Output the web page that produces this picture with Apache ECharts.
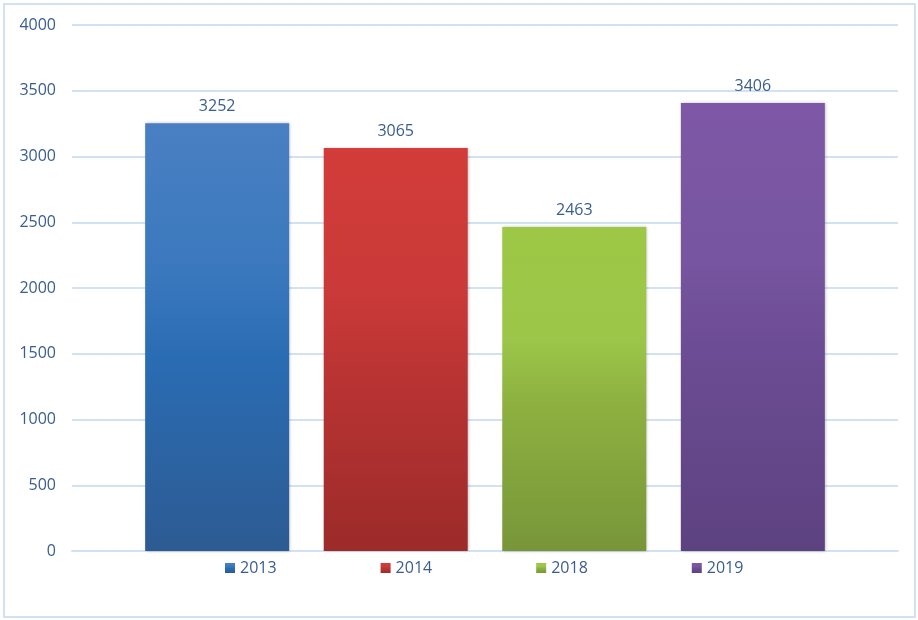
<!DOCTYPE html>
<html>
<head>
<meta charset="utf-8">
<style>
	html,body{margin:0;padding:0;background:#fff;}
	#chart{width:918px;height:620px;}
</style>
<script src="https://cdn.jsdelivr.net/npm/echarts@6/dist/echarts.min.js"></script>
</head>
<body>
<div id="chart"></div>
<script>
// data
var categories = [''];
var years = ['2013','2014','2018','2019'];
var values = [3252, 3065, 2463, 3406];
var yTicks = [0, 500, 1000, 1500, 2000, 2500, 3000, 3500, 4000];

// gradient stops per bar (top -> bottom)
var gradients = [
	['#4a80c3','#3a78bd','#2a6cb3','#2d5b93'],
	['#d23c39','#ca3a38','#bb3434','#9c2b29'],
	['#9dc845','#9bc649','#8db040','#789639'],
	['#7e58a6','#7755a0','#6c4c94','#5d4280']
];
var textColor = '#3a5d90';
var lineColor = '#d3e2f2';

function grad(c){
	return {
		type: 'linear', x: 0, y: 0, x2: 0, y2: 1,
		colorStops: [
			{offset: 0, color: c[0]},
			{offset: 0.35, color: c[1]},
			{offset: 0.55, color: c[2]},
			{offset: 1, color: c[3]}
		]
	};
}

var series = [];
for(var i=0;i<years.length;i++){
	series.push({
		name: years[i],
		type: 'bar',
		data: [values[i]],
		barWidth: 144,
		barGap: '24%',
		itemStyle: {
			color: grad(gradients[i]),
			shadowBlur: 3,
			shadowColor: 'rgba(0,0,0,0.25)',
			shadowOffsetX: 1
		},
		label: {
			show: true,
			position: 'top',
			distance: 9,
			color: textColor,
			fontSize: 16,
			fontFamily: 'Open Sans'
		}
	});
}

var myChart = echarts.init(document.getElementById('chart'));
var option = {
	animation: false,
	textStyle: {fontFamily: 'Open Sans'},
	graphic: [{
		type: 'rect',
		shape: {x: 4, y: 4, width: 911, height: 613},
		style: {fill: 'none', stroke: lineColor, lineWidth: 2},
		z: -1
	}],
	grid: {left: 72, right: 20, top: 25, bottom: 69},
	legend: {
		data: years,
		left: 220,
		top: 555,
		itemWidth: 10,
		itemHeight: 10,
		itemGap: 104,
		icon: 'rect',
		textStyle: {color: textColor, fontSize: 16, fontFamily: 'Open Sans'}
	},
	xAxis: {
		type: 'category',
		data: categories,
		axisLine: {lineStyle: {color: lineColor, width: 2}},
		axisTick: {show: false},
		axisLabel: {show: false}
	},
	yAxis: {
		type: 'value',
		min: yTicks[0],
		max: yTicks[yTicks.length-1],
		interval: 500,
		axisLine: {show: false},
		axisTick: {show: false},
		axisLabel: {
			color: textColor, fontSize: 16, margin: 16, fontFamily: 'Open Sans',
			formatter: function(v){ return String(v); }
		},
		splitLine: {lineStyle: {color: lineColor, width: 2}}
	},
	series: series
};
myChart.setOption(option);
</script>
</body>
</html>
